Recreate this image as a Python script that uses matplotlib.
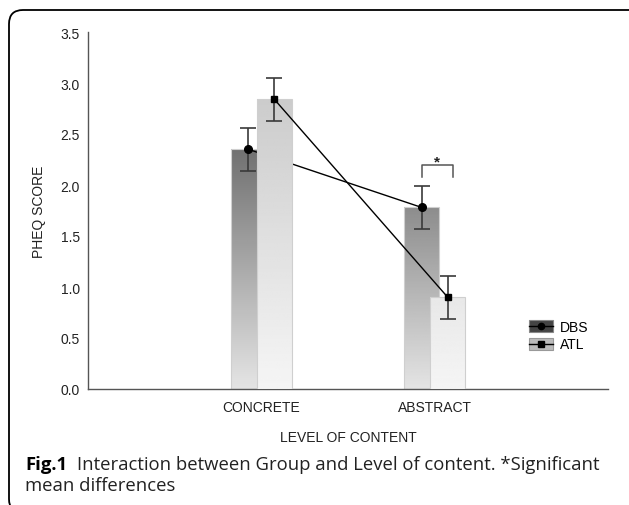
import numpy as np
import matplotlib
matplotlib.use("Agg")
import matplotlib.pyplot as plt
from matplotlib.patches import Patch, Rectangle, FancyBboxPatch
from matplotlib.lines import Line2D

levels = ["CONCRETE", "ABSTRACT"]
groups = ["DBS", "ATL"]
dbs_mean = [2.35, 1.78]
atl_mean = [2.84, 0.90]
dbs_err = [0.21, 0.21]
atl_err = [0.21, 0.21]
yticks = [0.0, 0.5, 1.0, 1.5, 2.0, 2.5, 3.0, 3.5]

plt.rcParams['font.family'] = ['Liberation Sans', 'DejaVu Sans']

fig = plt.figure(figsize=(6.29, 5.06), dpi=100)
ax = fig.add_axes([88 / 629, 116 / 506, 520 / 629, 357 / 506])

x = np.arange(len(levels))
width = 0.2
offset = 0.075


def gradient_bars(pos, means, shade, z):
    # shade(y) gives the grey level at data height y
    for xc, m in zip(pos, means):
        ys = np.linspace(0, m, 120)
        img = shade(ys).reshape(-1, 1)
        ax.imshow(img, extent=[xc - width / 2, xc + width / 2, 0, m], origin='lower',
                  cmap='gray', vmin=0, vmax=1, aspect='auto', zorder=z, interpolation='bilinear')
        ax.add_patch(Rectangle((xc - width / 2, 0), width, m, fill=False,
                               ec='#cfcfcf', lw=0.8, zorder=z + 0.1))


def points(pos, means, errs, marker, z):
    ax.errorbar(pos, means, yerr=errs, fmt='none', ecolor='#3a3a3a', elinewidth=1.2,
                capsize=6, capthick=1.2, zorder=z)
    ax.plot(pos, means, '-', marker=marker, color='black', lw=1, ms=5.5 if marker == 'o' else 5,
            zorder=z + 0.1)


dbs_x = x - offset
atl_x = x + offset
gradient_bars(dbs_x, dbs_mean, lambda y: (228 - 49 * y) / 255, 1)
points(dbs_x, dbs_mean, dbs_err, 'o', 2)
gradient_bars(atl_x, atl_mean, lambda y: (245 - 14.5 * y) / 255, 3)
points(atl_x, atl_mean, atl_err, 's', 4)

# significance bracket over ABSTRACT
bl = dbs_x[1]
br = atl_x[1] + 0.03
top = dbs_mean[1] + dbs_err[1] + 0.21
ax.plot([bl, bl, br, br], [top - 0.12, top, top, top - 0.12], color='#555555', lw=1.1,
        solid_joinstyle='round', zorder=5)
ax.text((bl + br) / 2, top - 0.04, '*', ha='center', va='bottom', fontsize=11,
        fontweight='bold', color='#222222')

ax.set_xlim(-1, 2)
ax.set_ylim(0, 3.5)
ax.set_xticks(x)
ax.set_xticklabels(levels)
ax.set_yticks(yticks)
ax.set_yticklabels([f"{v:.1f}" for v in yticks])
ax.tick_params(length=0, labelsize=10, colors='#222222')
ax.tick_params(axis='x', pad=8)
ax.tick_params(axis='y', pad=6)
for s in ['top', 'right']:
    ax.spines[s].set_visible(False)
for s in ['left', 'bottom']:
    ax.spines[s].set_color('#555555')
    ax.spines[s].set_linewidth(1)

ax.set_xlabel("LEVEL OF CONTENT", fontsize=10, color='#222222')
ax.set_ylabel("PHEQ SCORE", fontsize=10, color='#222222')
ax.xaxis.set_label_coords(0.5, -0.115)
ax.yaxis.set_label_coords(-0.081, 0.5)


class SwatchHandler:
    # filled box with the series line and marker across its middle
    def __init__(self, marker, ms):
        self.marker = marker
        self.ms = ms

    def legend_artist(self, legend, orig_handle, fontsize, handlebox):
        x0, y0 = -handlebox.xdescent, -handlebox.ydescent
        w, h = handlebox.width, handlebox.height
        tr = handlebox.get_transform()
        rect = Rectangle((x0, y0), w, h, fc=orig_handle.get_facecolor(),
                         ec=orig_handle.get_edgecolor(), lw=0.8, transform=tr)
        line = Line2D([x0, x0 + w], [y0 + h / 2] * 2, color='black', lw=1, transform=tr)
        mk = Line2D([x0 + w / 2], [y0 + h / 2], marker=self.marker, ms=self.ms,
                    color='black', lw=0, transform=tr)
        handlebox.add_artist(rect)
        handlebox.add_artist(line)
        handlebox.add_artist(mk)
        return rect


h_dbs = Patch(fc='#444444', ec='#888888')
h_atl = Patch(fc='#bbbbbb', ec='#999999')
ax.legend([h_dbs, h_atl], groups,
          handler_map={h_dbs: SwatchHandler('o', 4.5), h_atl: SwatchHandler('s', 4)},
          loc='upper left', bbox_to_anchor=((529 - 88) / 520, (390 - 321) / 357),
          frameon=False, borderpad=0, borderaxespad=0, fontsize=10,
          handlelength=1.7, handleheight=1.0, handletextpad=0.5, labelspacing=0.25)

# caption
cfont = ['Open Sans', 'DejaVu Sans']
cap = fig.text(25 / 629, 36 / 506, "Fig.1", fontsize=13.3, fontweight='bold',
               family=cfont, va='baseline')
r = fig.canvas.get_renderer()
bb = cap.get_window_extent(renderer=r)
fig.text((bb.x1 + 10) / 629, 36 / 506, "Interaction between Group and Level of content. *Significant",
         fontsize=13.3, family=cfont, va='baseline', color='#222222')
fig.text(25 / 629, 15 / 506, "mean differences", fontsize=13.3,
         family=cfont, va='baseline', color='#222222')

# rounded frame around the figure
frame = FancyBboxPatch((0.09, -0.08), 6.6, 4.95 + 0.08, boxstyle="round,pad=0,rounding_size=0.14",
                       transform=fig.dpi_scale_trans, fill=False, ec='black', lw=1.3)
fig.add_artist(frame)

fig.savefig("out.png", dpi=100)
